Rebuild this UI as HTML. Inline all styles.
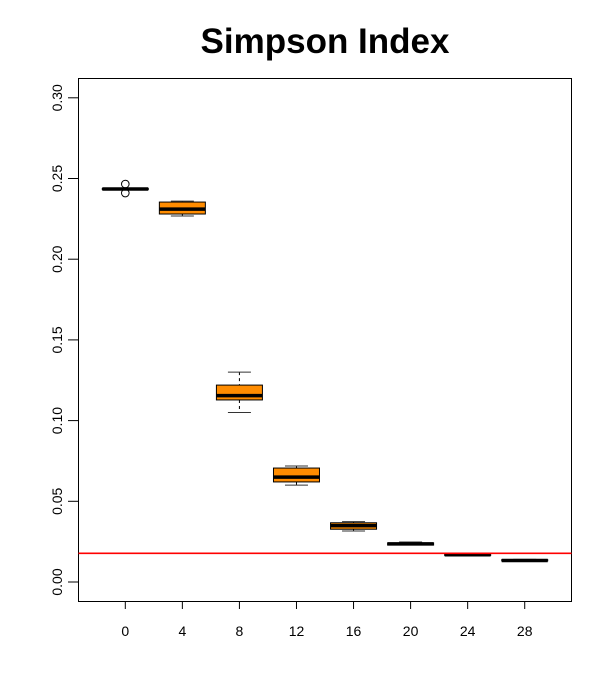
<!DOCTYPE html>
<html><head><meta charset="utf-8"><style>
body{margin:0;background:#fff;}
svg{display:block;font-family:"Liberation Sans",Arial,sans-serif;}
</style></head><body>
<svg id="chart" width="612" height="700" viewBox="0 0 612 700">
<text x="325" y="53" text-anchor="middle" font-size="35" font-weight="bold">Simpson Index</text>
<rect x="78.5" y="78.5" width="493" height="523" fill="none" stroke="#000" stroke-width="1"/>
<g id="marks"></g>
</svg>
<script>
const categories=["0","4","8","12","16","20","24","28"];
const whiskerLow=[0.2432,0.2268,0.105,0.060,0.0316,0.0232,0.0163,0.0130];
const q1=[0.2432,0.228,0.1128,0.062,0.0327,0.0229,0.0165,0.0131];
const medians=[0.2435,0.231,0.1155,0.065,0.0349,0.0236,0.0169,0.0133];
const q3=[0.2438,0.2354,0.122,0.0706,0.0367,0.0242,0.0171,0.0138];
const whiskerHigh=[0.2438,0.236,0.130,0.0719,0.0374,0.0248,0.0174,0.0140];
const outliers=[[0.2466,0.241],[],[],[],[],[],[],[]];
const yTicks=[0,0.05,0.10,0.15,0.20,0.25,0.30];
const yTickLabels=["0.00","0.05","0.10","0.15","0.20","0.25","0.30"];
const refLine=0.0178;
const NS="http://www.w3.org/2000/svg";
const g=document.getElementById('marks');
function y(v){return 582-v*1614;}
function x(i){return 125.3+57.06*i;}
function el(t,a){const e=document.createElementNS(NS,t);for(const k in a)e.setAttribute(k,a[k]);g.appendChild(e);return e;}
yTicks.forEach((v,i)=>{
  const t=el('line',{x1:68,x2:78.5,y1:y(v),y2:y(v),stroke:'#000'});
  
  
  const l=el('text',{x:0,y:0,'font-size':14,'text-anchor':'middle',transform:`translate(62,${y(v)}) rotate(-90)`});
  l.textContent=yTickLabels[i];
  
  
});
categories.forEach((c,i)=>{
  const cx=x(i),hw=23,sw=11.5;
  const t=el('line',{x1:cx,x2:cx,y1:601.5,y2:609,stroke:'#000'});
  
  
  const l=el('text',{x:cx,y:636,'font-size':14,'text-anchor':'middle'});
  l.textContent=c;
  
  
  const w1=el('line',{x1:cx,x2:cx,y1:y(whiskerHigh[i]),y2:y(q3[i]),stroke:'#000','stroke-dasharray':'3,3'});
  
  
  const w2=el('line',{x1:cx,x2:cx,y1:y(q1[i]),y2:y(whiskerLow[i]),stroke:'#000','stroke-dasharray':'3,3'});
  
  
  const s1=el('line',{x1:cx-sw,x2:cx+sw,y1:y(whiskerHigh[i]),y2:y(whiskerHigh[i]),stroke:'#333'});
  
  
  const s2=el('line',{x1:cx-sw,x2:cx+sw,y1:y(whiskerLow[i]),y2:y(whiskerLow[i]),stroke:'#333'});
  
  
  const b=el('rect',{x:cx-hw,y:y(q3[i]),width:hw*2,height:Math.max(0.5,y(q1[i])-y(q3[i])),fill:'#ff8c00',stroke:'#000','stroke-width':1});
  
  
  const m=el('line',{x1:cx-hw,x2:cx+hw,y1:y(medians[i]),y2:y(medians[i]),stroke:'#000','stroke-width':3.5});
  
  
  outliers[i].forEach(o=>{
    const p=el('circle',{cx:cx,cy:y(o),r:3.8,fill:'none',stroke:'#000'});
    
    
  });
});
const r=el('line',{x1:78.5,x2:571.5,y1:y(refLine),y2:y(refLine),stroke:'#ff0000','stroke-width':1.6});


</script>
</body></html>
